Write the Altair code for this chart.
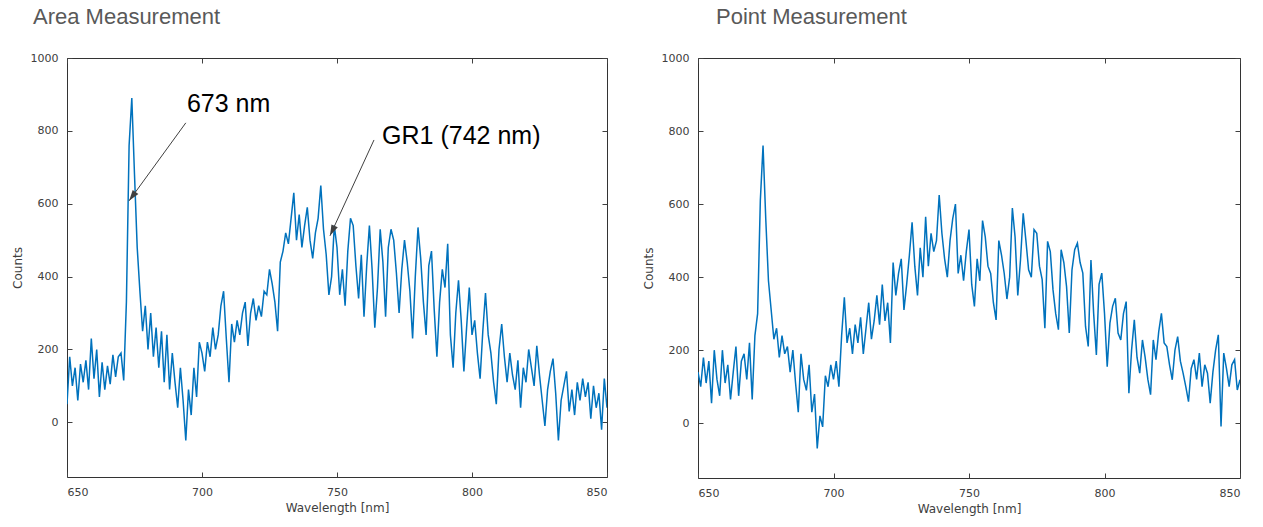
import altair as alt
import pandas as pd

# ---------------- data ----------------
wavelength = list(range(650, 851))

area_counts = [
    50, 180, 100, 150, 60, 160, 110, 170, 90, 230,        # 650-659
    120, 200, 70, 165, 90, 155, 105, 185, 125, 180,       # 660-669
    190, 115, 330, 760, 890, 680, 480, 360, 250, 320,     # 670-679
    200, 300, 180, 260, 150, 250, 110, 240, 90, 190,      # 680-689
    110, 40, 150, 60, -50, 90, 20, 150, 70, 220,          # 690-699
    190, 140, 220, 180, 260, 200, 240, 320, 360, 230,     # 700-709
    110, 270, 220, 280, 240, 300, 330, 210, 300, 340,     # 710-719
    280, 320, 290, 360, 350, 420, 380, 330, 250, 440,     # 720-729
    470, 520, 490, 560, 630, 500, 570, 480, 540, 590,     # 730-739
    500, 450, 520, 560, 650, 530, 460, 350, 400, 540,     # 740-749
    480, 350, 420, 320, 470, 560, 540, 430, 340, 460,     # 750-759
    290, 430, 540, 420, 260, 370, 530, 440, 290, 480,     # 760-769
    530, 500, 410, 300, 420, 500, 440, 360, 230, 400,     # 770-779
    535, 450, 330, 240, 430, 470, 310, 180, 330, 420,     # 780-789
    370, 490, 240, 150, 300, 390, 280, 140, 260, 370,     # 790-799
    240, 280, 190, 120, 250, 355, 240, 190, 110, 50,      # 800-809
    200, 270, 180, 110, 190, 130, 90, 170, 40, 150,       # 810-819
    110, 200, 150, 100, 210, 130, 60, -10, 90, 140,       # 820-829
    175, 80, -50, 60, 100, 140, 30, 90, 20, 110,          # 830-839
    60, 120, 70, 110, 10, 100, 40, 80, -20, 120,          # 840-849
    40,                                                   # 850
]

point_counts = [
    140, 100, 180, 110, 170, 55, 200, 120, 75, 200,       # 650-659
    110, 160, 65, 140, 210, 75, 170, 190, 120, 220,       # 660-669
    65, 240, 300, 610, 760, 560, 390, 310, 230, 260,      # 670-679
    180, 240, 190, 210, 140, 200, 110, 30, 190, 120,      # 680-689
    90, 160, 30, 80, -69, 20, -10, 130, 100, 160,         # 690-699
    120, 170, 100, 240, 345, 220, 260, 190, 270, 220,     # 700-709
    290, 190, 260, 330, 230, 280, 350, 270, 380, 280,     # 710-719
    330, 220, 440, 350, 410, 450, 310, 380, 460, 550,     # 720-729
    430, 350, 480, 400, 565, 430, 520, 470, 500, 625,     # 730-739
    520, 450, 400, 500, 560, 600, 410, 460, 390, 470,     # 740-749
    530, 380, 320, 450, 390, 555, 510, 430, 410, 330,     # 750-759
    283, 500, 460, 410, 340, 400, 589, 510, 350, 447,     # 760-769
    575, 500, 420, 400, 530, 520, 430, 393, 260, 498,     # 770-779
    470, 365, 300, 256, 475, 440, 374, 247, 420, 475,     # 780-789
    493, 440, 411, 265, 210, 447, 300, 187, 380, 411,     # 790-799
    301, 155, 274, 320, 342, 247, 228, 300, 333, 82,      # 800-809
    201, 283, 180, 137, 228, 180, 120, 78, 228, 174,      # 810-819
    250, 301, 220, 210, 160, 119, 200, 237, 170, 137,     # 820-829
    100, 59, 150, 174, 120, 192, 100, 160, 137, 55,       # 830-839
    140, 200, 242, -9, 192, 150, 100, 160, 174, 91,       # 840-849
    119,                                                  # 850
]

x_tick_values = [650, 700, 750, 800, 850]
y_tick_values = [0, 200, 400, 600, 800, 1000]

# annotations of the area panel (data units)
ann_labels = ["673 nm", "GR1 (742 nm)"]
ann_text_x = [694.4, 766.7]
ann_text_y = [874, 786]
ann_from_x = [694.0, 763.7]
ann_from_y = [822, 775]
ann_to_x = [673.0, 747.4]
ann_to_y = [608, 512]
ann_head_angle = [216, 205]

assert len(area_counts) == len(wavelength)
assert len(point_counts) == len(wavelength)

BLUE = "#0072BD"
AXIS_GRAY = "#404040"
TICK_FONT = "DejaVu Sans"


def make_panel(counts, title, title_dx, title_offset, width, height, with_ann):
    df = pd.DataFrame({"wl": wavelength, "c": counts})
    xs = alt.Scale(domain=[650, 850], nice=False, zero=False)
    ys = alt.Scale(domain=[-150, 1000], nice=False, zero=False)
    common = dict(tickSize=5, offset=-5, domain=False, grid=False,
                  tickColor=AXIS_GRAY, tickWidth=1)
    line = alt.Chart(df).mark_line(color=BLUE, strokeWidth=1.5, clip=True).encode(
        x=alt.X("wl:Q", scale=xs, axis=alt.Axis(
            values=x_tick_values, orient="bottom", title="Wavelength [nm]",
            format="d",
            labelFont=TICK_FONT, labelFontSize=11, labelColor=AXIS_GRAY,
            labelPadding=9, titleFont=TICK_FONT, titleFontSize=12,
            titleFontWeight="normal", titleColor=AXIS_GRAY, titlePadding=5,
            **common)),
        y=alt.Y("c:Q", scale=ys, axis=alt.Axis(
            values=y_tick_values, orient="left", title="Counts", format="d",
            labelFont=TICK_FONT, labelFontSize=11, labelColor=AXIS_GRAY,
            labelPadding=9, titleFont=TICK_FONT, titleFontSize=12,
            titleFontWeight="normal", titleColor=AXIS_GRAY, titlePadding=6,
            **common)),
    )
    mirror = alt.Chart(df).mark_line(opacity=0).encode(
        x=alt.X("wl:Q", scale=xs, axis=alt.Axis(
            values=x_tick_values, orient="top", labels=False, title=None, **common)),
        y=alt.Y("c:Q", scale=ys, axis=alt.Axis(
            values=y_tick_values, orient="right", labels=False, title=None, **common)),
    )
    layers = [line, mirror]
    if with_ann:
        adf = pd.DataFrame({
            "label": ann_labels, "tx": ann_text_x, "ty": ann_text_y,
            "fx": ann_from_x, "fy": ann_from_y, "ex": ann_to_x, "ey": ann_to_y,
            "ang": ann_head_angle,
        })
        arrow = alt.Chart(adf).mark_rule(color="#404040", strokeWidth=1).encode(
            x=alt.X("fx:Q", scale=xs, axis=None), y=alt.Y("fy:Q", scale=ys, axis=None),
            x2="ex:Q", y2="ey:Q")
        head = alt.Chart(adf).mark_point(
            shape="M0,0L-0.32,1L0.32,1Z", filled=True, color="#404040",
            opacity=1, size=480).encode(
            x=alt.X("ex:Q", scale=xs, axis=None), y=alt.Y("ey:Q", scale=ys, axis=None),
            angle=alt.Angle("ang:Q", scale=None))
        text = alt.Chart(adf).mark_text(
            align="left", baseline="middle", font="Liberation Sans",
            fontSize=25, color="#000000").encode(
            x=alt.X("tx:Q", scale=xs, axis=None), y=alt.Y("ty:Q", scale=ys, axis=None),
            text="label:N")
        layers += [arrow, head, text]
    return alt.layer(*layers).resolve_axis(x="independent", y="independent").properties(
        width=width, height=height,
        title=alt.TitleParams(title, anchor="start", frame="group", dx=title_dx,
                              fontSize=22, font="Liberation Sans",
                              fontWeight="normal", color="#595959",
                              baseline="alphabetic", offset=title_offset),
    )


left = make_panel(area_counts, "Area Measurement", -34, 6, 540, 419, True)
right = make_panel(point_counts, "Point Measurement", 18, 6, 542, 420, False)

chart = alt.hconcat(left, right, spacing=91, bounds="flush").configure_view(
    stroke="#333333", strokeWidth=1
).properties(padding={"left": 10, "top": 5, "right": 5, "bottom": 5})

chart.save("out.html", embed_options={"renderer": "svg", "actions": False})
